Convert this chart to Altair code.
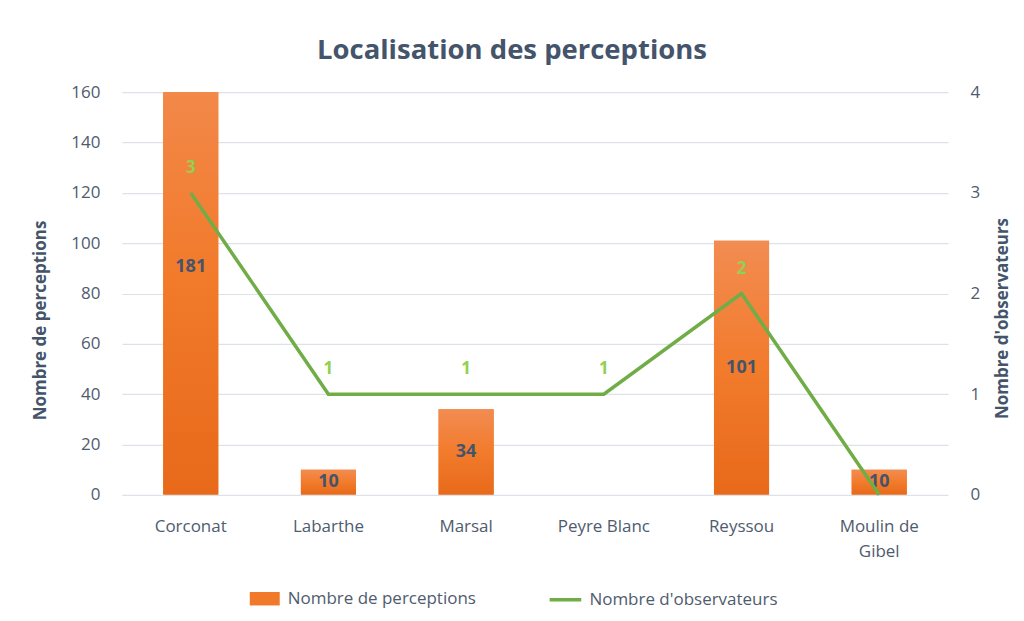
import altair as alt
import pandas as pd

categories = ["Corconat", "Labarthe", "Marsal", "Peyre Blanc", "Reyssou", "Moulin de Gibel"]
perceptions = [181, 10, 34, None, 101, 10]
observateurs = [3, 1, 1, 1, 2, 0]

df = pd.DataFrame({"cat": categories, "perc": perceptions, "obs": observateurs})
df["mid"] = df["perc"] / 2

FONT = "Open Sans"
TXT = "#44546A"
LAB = "#4F5B6E"
ORANGE = "#F07A2A"
GREEN = "#70AD47"

xenc = alt.X("cat:N", sort=categories, title=None,
             scale=alt.Scale(paddingInner=0.6, paddingOuter=0.3),
             axis=alt.Axis(labelAngle=0, labelFontSize=17, labelColor=LAB, labelFont=FONT,
                           labelPadding=24, domain=False, ticks=False, labelLineHeight=25,
                           labelExpr="datum.label == 'Moulin de Gibel' ? ['Moulin de', 'Gibel'] : datum.label"))

yscale = alt.Scale(domain=[0, 160])
y_axis = alt.Axis(values=list(range(0, 161, 20)), labelFontSize=17, labelColor=LAB,
                  labelFont=FONT, titleFont=FONT, titleFontSize=17, titleColor=TXT,
                  titleFontWeight="bold", labelPadding=22, titlePadding=21, titleY=228,
                  domain=False, ticks=False, gridColor="#DDE1E8", gridWidth=1.2)
Y1_TITLE = "Nombre de perceptions"

y2scale = alt.Scale(domain=[0, 4])
y2_axis = alt.Axis(orient="right", values=[0, 1, 2, 3, 4], labelFontSize=17, labelColor=LAB,
                   labelFont=FONT, titleFont=FONT, titleFontSize=17, titleColor=TXT,
                   titleFontWeight="bold", labelPadding=22, titlePadding=32, titleY=226,
                   titleAngle=270, domain=False, ticks=False, grid=False)
Y2_TITLE = "Nombre d'observateurs"

base = alt.Chart(df)

bar_legend = base.mark_bar(clip=True).encode(
    x=xenc,
    y=alt.Y("perc:Q", scale=yscale, title=Y1_TITLE, axis=y_axis),
    color=alt.Color("lg:N", scale=alt.Scale(range=[ORANGE]),
                    legend=alt.Legend(title=None, orient="none", legendX=128, legendY=492,
                                      symbolType="M-1,-0.45H1V0.45H-1Z",
                                      symbolSize=900, symbolStrokeWidth=0, labelFontSize=17,
                                      labelColor=LAB, labelFont=FONT, labelOffset=8, labelLimit=400)),
).transform_calculate(lg="'Nombre de perceptions'")

bar_grad = base.mark_bar(clip=True, color=alt.Gradient(
    gradient="linear", x1=0, x2=0, y1=0, y2=1,
    stops=[alt.GradientStop(color="#F28C52", offset=0),
           alt.GradientStop(color="#F27B2C", offset=0.5),
           alt.GradientStop(color="#E8691A", offset=1)])).encode(
    x=xenc, y=alt.Y("perc:Q", scale=yscale, title=Y1_TITLE, axis=y_axis))

bar_text = base.mark_text(font=FONT, fontSize=18, fontWeight="bold", color=TXT).encode(
    x=xenc, y=alt.Y("mid:Q", scale=yscale, title=Y1_TITLE, axis=y_axis), text=alt.Text("perc:Q"))

bars = alt.layer(bar_legend, bar_grad, bar_text)

line = base.mark_line(strokeWidth=3.5).encode(
    x=xenc,
    y=alt.Y("obs:Q", scale=y2scale, title=Y2_TITLE, axis=y2_axis),
    color=alt.Color("lg2:N", scale=alt.Scale(range=[GREEN]),
                    legend=alt.Legend(title=None, orient="none", legendX=426, legendY=490,
                                      symbolType="stroke",
                                      symbolSize=1000, symbolStrokeWidth=3.5, labelFontSize=17,
                                      labelColor=LAB, labelFont=FONT, labelOffset=6, labelLimit=400)),
).transform_calculate(lg2="'Nombre d\\'observateurs'")

line_text = base.mark_text(font=FONT, fontSize=17, fontWeight="bold", color="#92D050", dy=-25).encode(
    x=xenc, y=alt.Y("obs:Q", scale=y2scale, title=Y2_TITLE, axis=y2_axis), text=alt.Text("obs:Q")
).transform_filter("datum.obs > 0")

lines = alt.layer(line, line_text)

chart = alt.layer(bars, lines).resolve_scale(y="independent", color="independent").properties(
    width=827, height=403,
    autosize=alt.AutoSizeParams(type="none"),
    padding={"left": 114, "top": 84, "right": 68, "bottom": 117},
    title=alt.TitleParams("Localisation des perceptions", font=FONT, fontSize=27.5,
                          fontWeight="bold", color=TXT, dx=-23, offset=19),
).configure_view(stroke=None)

chart.save("out.html", embed_options={"renderer": "svg", "actions": False})
